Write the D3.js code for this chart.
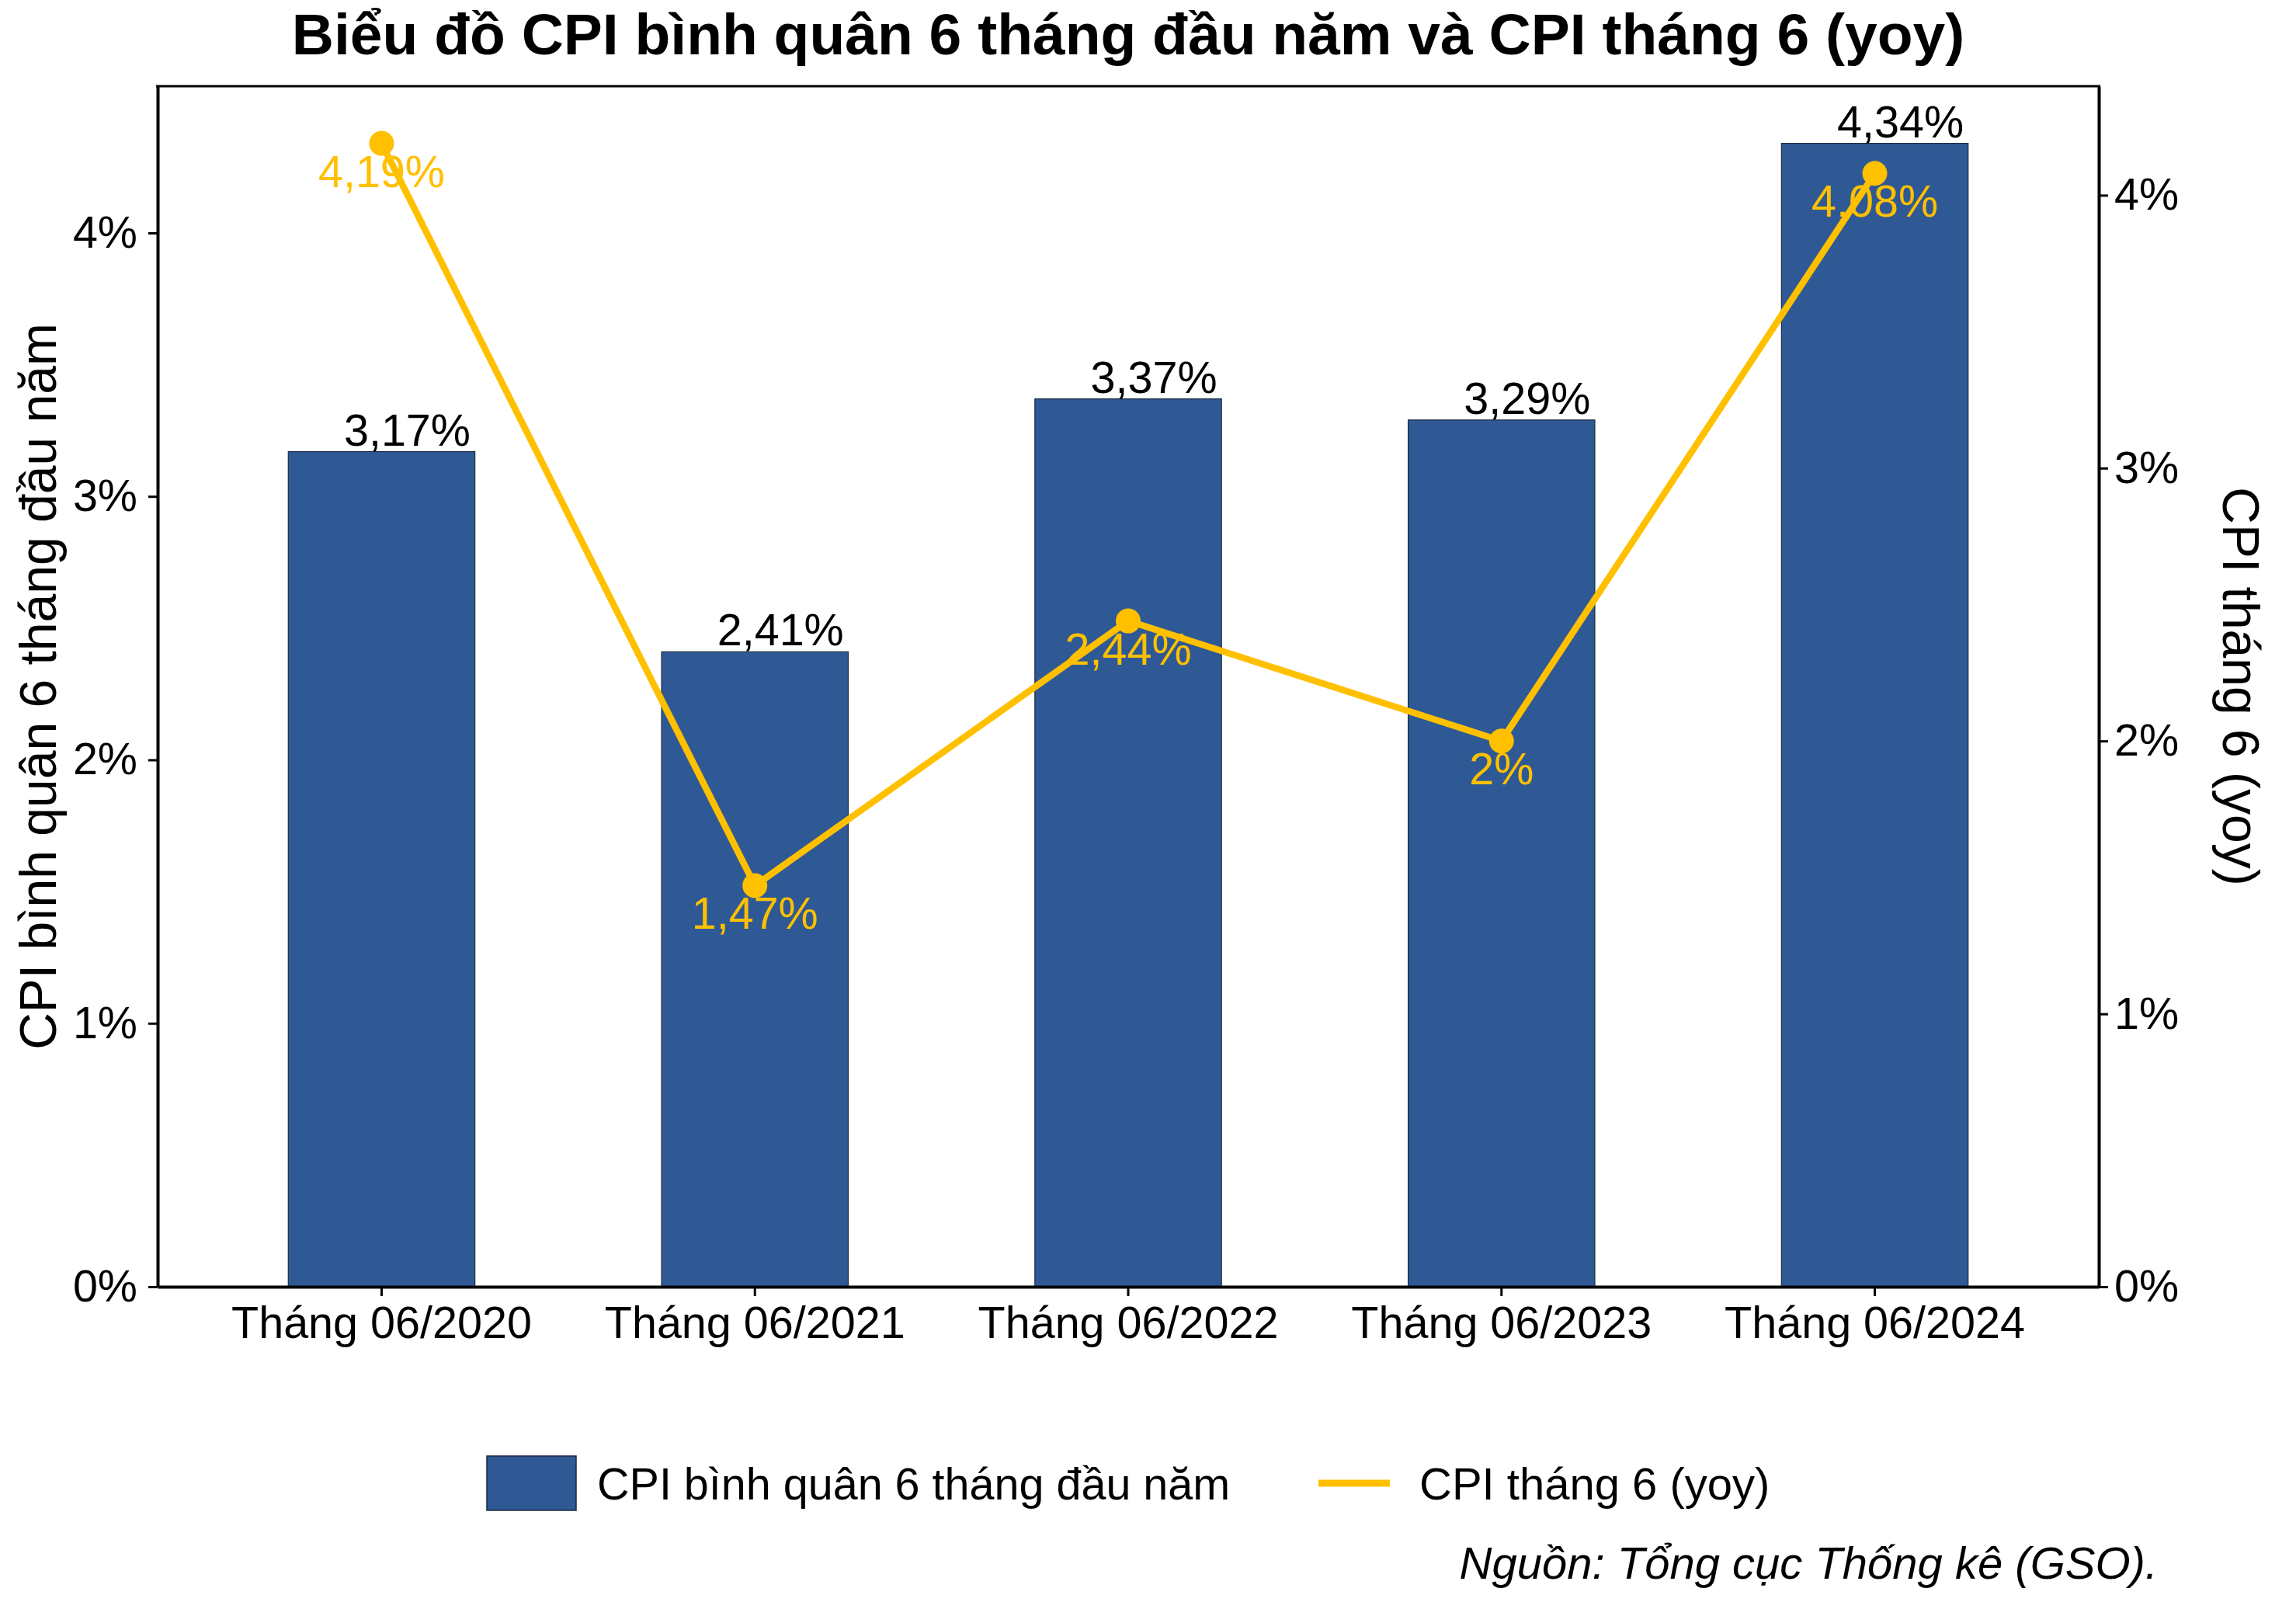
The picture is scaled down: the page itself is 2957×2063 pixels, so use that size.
<!DOCTYPE html>
<html>
<head>
<meta charset="utf-8">
<script src="https://cdn.jsdelivr.net/npm/d3@7"></script>
<style>
	body { margin: 0; background: #fff; }
	text { font-family: "Liberation Sans", Arial, sans-serif; }
	.axis text { font-size: 57.5px; fill: #000; }
	.axis path, .axis line { stroke: #000; }
</style>
</head>
<body>
<svg id="chart" width="2957" height="2063"></svg>
<script>
// données
var categories = ["Tháng 06/2020", "Tháng 06/2021", "Tháng 06/2022", "Tháng 06/2023", "Tháng 06/2024"];
var cpiAvg = [3.17, 2.41, 3.37, 3.29, 4.34];   // CPI bình quân 6 tháng đầu năm
var cpiJune = [4.19, 1.47, 2.44, 2, 4.08];     // CPI tháng 6 (yoy)
var leftTicks = [0, 1, 2, 3, 4];
var rightTicks = [0, 1, 2, 3, 4];

var barColor = "#2F5994",
	lineColor = "#FFC000";

function fmt(v) { return String(v).replace(".", ",") + "%"; }

var svg = d3.select("#chart");
var margin = {top: 111, right: 254, bottom: 406, left: 203},
	width = +svg.attr("width") - margin.left - margin.right,
	height = +svg.attr("height") - margin.top - margin.bottom;

var x = d3.scaleBand().domain(categories).range([0, width]).paddingInner(0.5).paddingOuter(0.35);
var yLeft = d3.scaleLinear().domain([0, d3.max(cpiAvg) * 1.05]).range([height, 0]);
var yRight = d3.scaleLinear().domain([0, d3.max(cpiJune) * 1.05]).range([height, 0]);

var g = svg.append("g").attr("transform", "translate(" + margin.left + "," + margin.top + ")");

// titre
svg.append("text")
	.attr("x", margin.left + width / 2).attr("y", 70)
	.attr("text-anchor", "middle")
	.style("font-size", "75px").style("font-weight", "bold")
	.text("Biểu đồ CPI bình quân 6 tháng đầu năm và CPI tháng 6 (yoy)");

// barres
g.selectAll(".bar")
	.data(cpiAvg)
	.enter().append("rect")
	.attr("class", "bar")
	.attr("x", function(d, i) { return x(categories[i]); })
	.attr("y", function(d) { return yLeft(d); })
	.attr("width", x.bandwidth())
	.attr("height", function(d) { return height - yLeft(d); })
	.style("fill", barColor)
	.style("stroke", "#1c2a40").style("stroke-width", 1.2);

// ligne CPI tháng 6
var line = d3.line()
	.x(function(d, i) { return x(categories[i]) + x.bandwidth() / 2; })
	.y(function(d) { return yRight(d); });

g.append("path")
	.datum(cpiJune)
	.attr("d", line)
	.style("fill", "none").style("stroke", lineColor).style("stroke-width", 8.5)
	.style("stroke-linejoin", "round");

g.selectAll(".dot")
	.data(cpiJune)
	.enter().append("circle")
	.attr("r", 16)
	.attr("cx", function(d, i) { return x(categories[i]) + x.bandwidth() / 2; })
	.attr("cy", function(d) { return yRight(d); })
	.style("fill", lineColor);

g.selectAll(".lbl-line")
	.data(cpiJune)
	.enter().append("text")
	.attr("x", function(d, i) { return x(categories[i]) + x.bandwidth() / 2; })
	.attr("y", function(d) { return yRight(d) + 56; })
	.attr("text-anchor", "middle")
	.style("font-size", "57.5px").style("fill", lineColor)
	.text(fmt);

g.selectAll(".lbl-bar")
	.data(cpiAvg)
	.enter().append("text")
	.attr("x", function(d, i) { return x(categories[i]) + x.bandwidth() / 2 + 33; })
	.attr("y", function(d) { return yLeft(d) - 8; })
	.attr("text-anchor", "middle")
	.style("font-size", "57.5px").style("fill", "#000")
	.text(fmt);

// axes
var ax = g.append("g").attr("class", "axis")
	.attr("transform", "translate(0," + height + ")")
	.call(d3.axisBottom(x).tickSize(12).tickSizeOuter(0).tickPadding(13));
ax.select(".domain").style("stroke-width", 4);
ax.selectAll(".tick line").style("stroke-width", 3);

var ayl = g.append("g").attr("class", "axis")
	.call(d3.axisLeft(yLeft).tickValues(leftTicks).tickFormat(function(d) { return d + "%"; })
		.tickSize(12).tickSizeOuter(0).tickPadding(14));
ayl.select(".domain").style("stroke-width", 4);
ayl.selectAll(".tick line").style("stroke-width", 3);

var ayr = g.append("g").attr("class", "axis")
	.attr("transform", "translate(" + width + ",0)")
	.call(d3.axisRight(yRight).tickValues(rightTicks).tickFormat(function(d) { return d + "%"; })
		.tickSize(12).tickSizeOuter(0).tickPadding(8));
ayr.select(".domain").style("stroke-width", 4);
ayr.selectAll(".tick line").style("stroke-width", 3);

// bordure du haut
g.append("line")
	.attr("x1", -2).attr("x2", width + 2).attr("y1", 0).attr("y2", 0)
	.style("stroke", "#000").style("stroke-width", 3);

// titres des axes
svg.append("text")
	.attr("transform", "translate(72," + (margin.top + height / 2) + ") rotate(-90)")
	.attr("text-anchor", "middle")
	.style("font-size", "66px")
	.text("CPI bình quân 6 tháng đầu năm");

svg.append("text")
	.attr("transform", "translate(2863," + (margin.top + height / 2) + ") rotate(90)")
	.attr("text-anchor", "middle")
	.style("font-size", "66px")
	.text("CPI tháng 6 (yoy)");

// légende
var leg = svg.append("g").attr("transform", "translate(0,1910)");
leg.append("rect")
	.attr("x", 627).attr("y", -35).attr("width", 115).attr("height", 70)
	.style("fill", barColor).style("stroke", "#1c2a40").style("stroke-width", 1.5);
leg.append("text")
	.attr("x", 769).attr("y", 21)
	.style("font-size", "57.5px")
	.text("CPI bình quân 6 tháng đầu năm");
leg.append("line")
	.attr("x1", 1698).attr("x2", 1790).attr("y1", 0).attr("y2", 0)
	.style("stroke", lineColor).style("stroke-width", 9);
leg.append("text")
	.attr("x", 1828).attr("y", 21)
	.style("font-size", "58px")
	.text("CPI tháng 6 (yoy)");

// source
svg.append("text")
	.attr("x", 2779).attr("y", 2033)
	.attr("text-anchor", "end")
	.style("font-size", "58px").style("font-style", "italic")
	.text("Nguồn: Tổng cục Thống kê (GSO).");
</script>
</body>
</html>
